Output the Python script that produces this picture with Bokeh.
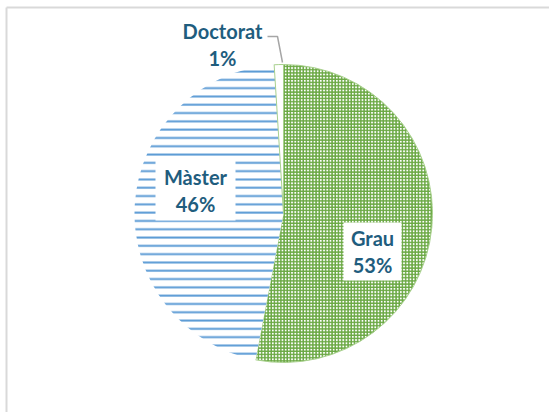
import math
from bokeh.plotting import figure
from bokeh.models import Range1d
from bokeh.core.properties import value
from bokeh.embed import file_html
from bokeh.resources import INLINE

# ---- data ----
categories = ["Grau", "Màster", "Doctorat"]
percents = [53, 46, 1]
labels = [f"{c}\n{v}%" for c, v in zip(categories, percents)]

# ---- styles ----
fill_colors = ["white", "white", "white"]
hatch_patterns = ["+", "-", " "]
hatch_colors = ["#6AA843", "#5B9BD5", "#A9D18E"]
hatch_scales = [3.2, 8.3, 4]
hatch_weights = [1.7, 2.0, 1]
line_colors = ["#A9D18E", None, "#A9D18E"]
text_color = "#1F5D7E"

W, H = 549, 412
p = figure(width=W, height=H, output_backend="svg", toolbar_location=None,
           x_range=Range1d(0, W), y_range=Range1d(0, H), min_border=0)
p.axis.visible = False
p.grid.visible = False
p.outline_line_color = None
p.background_fill_color = "white"

cx, cy, r = 283, 199, 149

total = sum(percents)
start = math.pi / 2
starts, ends = [], []
for v in percents:
    a = 2 * math.pi * v / total
    starts.append(start)
    ends.append(start - a)
    start -= a

for i in range(len(categories)):
    p.wedge(x=cx, y=cy, radius=r, start_angle=starts[i], end_angle=ends[i],
            direction="clock", fill_color=fill_colors[i],
            hatch_pattern=hatch_patterns[i], hatch_color=hatch_colors[i],
            hatch_scale=hatch_scales[i], hatch_weight=hatch_weights[i],
            line_color=line_colors[i], line_width=1)

# label boxes
box_x = [372, 195]
box_y = [161, 222]
box_w = [58, 80]
box_h = [58, 60]
p.rect(x=box_x, y=box_y, width=box_w, height=box_h, fill_color="white", line_color=None)

# leader line for Doctorat
p.line(x=[267, 277, 282], y=[376, 376, 350], line_color="#A6A6A6", line_width=1.5)

lab_x = [372, 195, 222]
lab_y = [161, 222, 368]
p.text(x=lab_x, y=lab_y, text=labels, text_align="center", text_baseline="middle",
       text_font=value("Lato"), text_font_style="bold", text_font_size="20px",
       text_color=text_color, text_line_height=1.15)

# frame lines (left and top)
p.line(x=[6, 6], y=[0, 405], line_color="#D9D9D9", line_width=2)
p.line(x=[6, W], y=[405, 405], line_color="#D9D9D9", line_width=2)

open("out.html", "w").write(file_html(p, INLINE))
